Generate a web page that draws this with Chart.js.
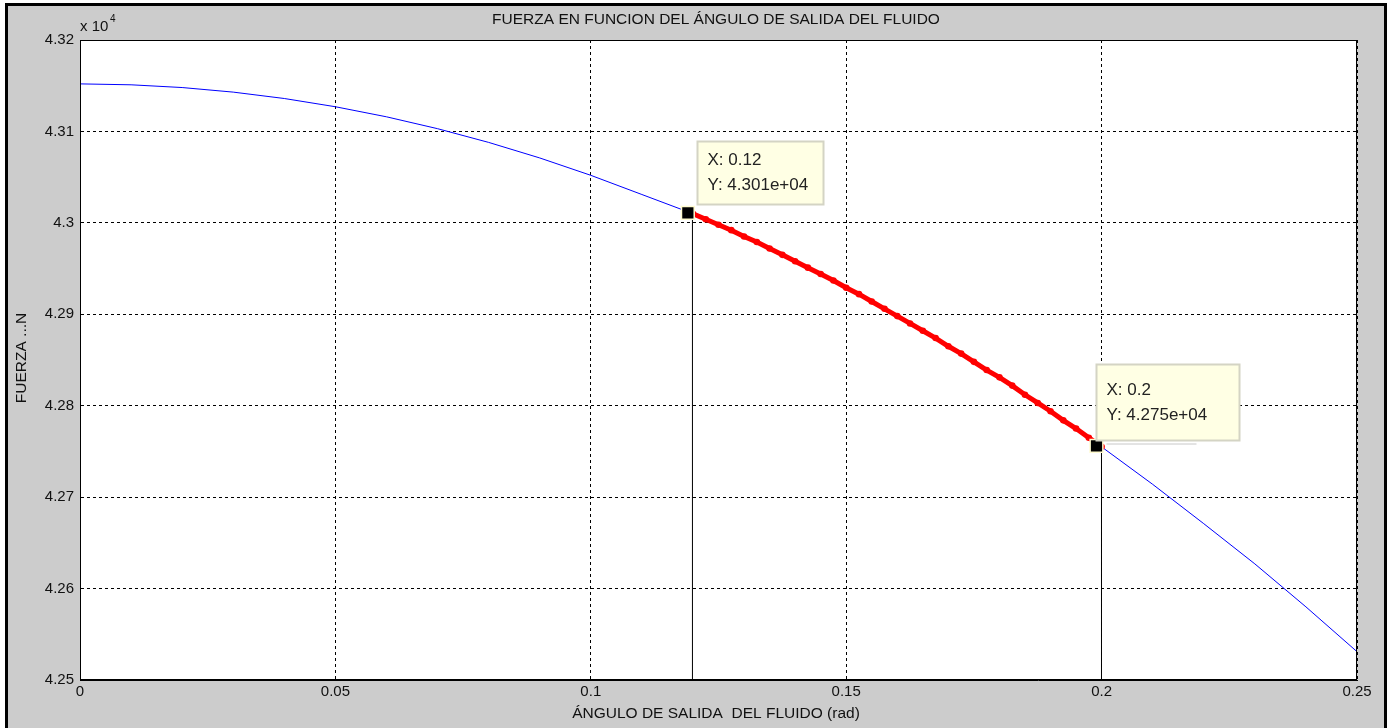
<!DOCTYPE html>
<html>
<head>
<meta charset="utf-8">
<script src="https://cdn.jsdelivr.net/npm/chart.js@4.4.1/dist/chart.umd.min.js"></script>
<style>
  html, body { margin: 0; padding: 0; background: #fff; }
  #wrap { width: 1392px; height: 728px; }
</style>
</head>
<body>
<div id="wrap"><canvas id="fuerzaChart" width="1392" height="728"></canvas></div>
<script>
// angulo de salida (rad) y fuerza (N)
const angulos = [0, 0.01, 0.02, 0.03, 0.04, 0.05, 0.06, 0.07, 0.08, 0.09, 0.10, 0.11, 0.12,
  0.13, 0.14, 0.15, 0.16, 0.17, 0.18, 0.19, 0.20, 0.21, 0.22, 0.23, 0.24, 0.25];
const fuerzas = [43152, 43151, 43148, 43143, 43136, 43127, 43116, 43103, 43088, 43071, 43052, 43031, 43010,
  42985, 42958, 42929, 42898, 42865, 42831, 42794, 42755, 42714, 42671, 42627, 42580, 42531];

// tramo resaltado en rojo
const angulosTramo = [0.1200, 0.1225, 0.1250, 0.1275, 0.1300, 0.1325, 0.1350, 0.1375, 0.1400,
  0.1425, 0.1450, 0.1475, 0.1500, 0.1525, 0.1550, 0.1575, 0.1600, 0.1625, 0.1650, 0.1675,
  0.1700, 0.1725, 0.1750, 0.1775, 0.1800, 0.1825, 0.1850, 0.1875, 0.1900, 0.1925, 0.1950,
  0.1975, 0.2000];
const fuerzasTramo = [43010, 43004, 42998, 42992, 42985, 42979, 42972, 42965, 42958,
  42951, 42944, 42937, 42929, 42922, 42914, 42906, 42898, 42890, 42882, 42874,
  42865, 42857, 42848, 42839, 42831, 42822, 42812, 42803, 42794, 42784, 42775,
  42765, 42755];

// data tips
const tipX = [0.119, 0.199];
const tipY = [43011, 42756];
const tallosX = [0.1199, 0.19998];
const tipTextos = [['X: 0.12', 'Y: 4.301e+04'], ['X: 0.2', 'Y: 4.275e+04']];

const xTicks = [0, 0.05, 0.1, 0.15, 0.2, 0.25];
const yMin = 42500, yMax = 43200;

const FONT = '"Liberation Sans", Arial, sans-serif';

const marcoPlugin = {
  id: 'marco',
  beforeDraw(chart) {
    const ctx = chart.ctx;
    const a = chart.chartArea;
    ctx.save();
    ctx.fillStyle = '#fff';
    ctx.fillRect(0, 0, chart.width, chart.height);
    ctx.fillStyle = '#cccccc';
    ctx.fillRect(6, 4, 1380, 730);
    ctx.strokeStyle = '#000';
    ctx.lineWidth = 3;
    ctx.strokeRect(6.5, 4.5, 1379, 730);
    ctx.fillStyle = '#fff';
    ctx.fillRect(a.left, a.top, a.right - a.left, a.bottom - a.top);
    ctx.restore();
  },
  afterDraw(chart) {
    const ctx = chart.ctx;
    const a = chart.chartArea;
    const xs = chart.scales.x, ys = chart.scales.y;
    ctx.save();
    ctx.strokeStyle = '#000';
    ctx.lineWidth = 1;
    ctx.strokeRect(a.left + 0.5, a.top + 0.5, a.right - a.left - 1, a.bottom - a.top - 1);

    ctx.fillStyle = '#111';
    ctx.font = '15.5px ' + FONT;
    ctx.textAlign = 'center';
    ctx.textBaseline = 'middle';
    ctx.fillText('FUERZA EN FUNCION DEL ÁNGULO DE SALIDA DEL FLUIDO', 716, 20);
    ctx.fillText('ÁNGULO DE SALIDA  DEL FLUIDO (rad)', 716, 714);

    ctx.textAlign = 'left';
    ctx.font = '15px ' + FONT;
    ctx.fillText('x 10', 80, 27);
    ctx.font = '10px ' + FONT;
    ctx.fillText('4', 110, 19);

    ctx.save();
    ctx.translate(22, 358);
    ctx.rotate(-Math.PI / 2);
    ctx.font = '15.5px ' + FONT;
    ctx.textAlign = 'center';
    ctx.fillText('FUERZA ...N', 0, 0);
    ctx.restore();

    // cajas de los data tips
    const cajas = [
      { dx: 9, dy: -72, w: 126, h: 63, fs: 17 },
      { dx: 0, dy: -82, w: 143, h: 76, fs: 17 }
    ];
    tipX.forEach((tx, i) => {
      const px = xs.getPixelForValue(tx);
      const py = ys.getPixelForValue(tipY[i]);
      const c = cajas[i];
      const bx = Math.round(px + c.dx) + 0.5, by = Math.round(py + c.dy) + 0.5;
      ctx.fillStyle = '#ffffe4';
      ctx.fillRect(bx, by, c.w, c.h);
      ctx.strokeStyle = '#d4d4c4';
      ctx.lineWidth = 2;
      ctx.strokeRect(bx, by, c.w, c.h);
      ctx.fillStyle = '#222';
      ctx.font = c.fs + 'px ' + FONT;
      ctx.textAlign = 'left';
      ctx.textBaseline = 'middle';
      ctx.fillText(tipTextos[i][0], bx + 10, by + c.h / 2 - 12.5);
      ctx.fillText(tipTextos[i][1], bx + 10, by + c.h / 2 + 12.5);
      if (i === 1) {
        ctx.strokeStyle = '#c8c8c8';
        ctx.lineWidth = 1;
        ctx.beginPath();
        ctx.moveTo(bx + 10, by + c.h + 3.5);
        ctx.lineTo(bx + 100, by + c.h + 3.5);
        ctx.stroke();
      }
    });
    ctx.restore();
  }
};

const curva = angulos.map((x, i) => ({ x, y: fuerzas[i] }));
const tramo = angulosTramo.map((x, i) => ({ x, y: fuerzasTramo[i] }));
const marcadores = tipX.map((x, i) => ({ x, y: tipY[i] }));
const tallos = tallosX.map((x, i) => ({
  type: 'scatter', showLine: true, borderColor: '#000', borderWidth: 1, pointRadius: 0,
  data: [{ x, y: yMin }, { x, y: tipY[i] }], order: 3
}));

new Chart(document.getElementById('fuerzaChart').getContext('2d'), {
  type: 'scatter',
  data: {
    datasets: [
      { data: curva, showLine: true, borderColor: '#0000ff', borderWidth: 1, pointRadius: 0, order: 4 },
      ...tallos,
      { data: tramo, showLine: true, borderColor: '#ff0000', borderWidth: 5, pointRadius: 3.3,
        pointBackgroundColor: '#ff0000', pointBorderWidth: 0, order: 2 },
      { data: marcadores, showLine: false, pointStyle: 'rect', pointRadius: 9,
        pointBackgroundColor: '#000', pointBorderColor: '#fffbd0', pointBorderWidth: 1.5, order: 1 }
    ]
  },
  options: {
    responsive: false,
    animation: false,
    events: [],
    layout: { padding: { left: 0, top: 40, right: 35, bottom: 0 } },
    plugins: { legend: { display: false }, tooltip: { enabled: false }, title: { display: false } },
    scales: {
      x: {
        type: 'linear', min: 0, max: 0.25,
        afterBuildTicks: (s) => { s.ticks = xTicks.map(v => ({ value: v })); },
        afterFit: (s) => { s.height = 48; },
        ticks: {
          color: '#111', font: { family: FONT, size: 15 }, padding: 3, maxRotation: 0,
          callback: (v) => Number(v.toFixed(2)).toString()
        },
        grid: { color: '#000', lineWidth: 1, tickLength: 0, drawTicks: false },
        border: { display: true, color: '#000', dash: [3, 3] }
      },
      y: {
        type: 'linear', min: yMin, max: yMax,
        ticks: {
          stepSize: 100, color: '#111', font: { family: FONT, size: 15 }, padding: 6,
          callback: (v) => Number((v / 1e4).toFixed(3)).toString()
        },
        afterFit: (s) => { s.width = 80; },
        grid: { color: '#000', lineWidth: 1, tickLength: 0, drawTicks: false },
        border: { display: true, color: '#000', dash: [3, 3] }
      }
    }
  },
  plugins: [marcoPlugin]
});
</script>
</body>
</html>
